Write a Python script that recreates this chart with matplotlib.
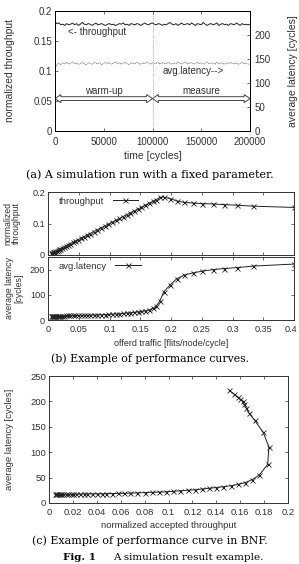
import numpy as np
import matplotlib.pyplot as plt
import matplotlib.patches as mpatches
from matplotlib.transforms import ScaledTranslation

# ---- data ----
# (a) simulation run, one sample every 2000 cycles
time_cycles = np.arange(0, 200001, 2000)
thr_run = [182, 179, 180, 177, 178, 176, 179, 177, 178, 180,
           177, 179, 176, 178, 181, 178, 177, 179, 178, 176,
           178, 180, 177, 178, 179, 177, 176, 178, 179, 177,
           178, 176, 177, 179, 178, 180, 177, 178, 176, 179,
           178, 177, 179, 178, 176, 178, 180, 178, 177, 179,
           180, 178, 177, 179, 178, 176, 178, 177, 179, 181,
           178, 177, 179, 176, 178, 180, 177, 178, 179, 177,
           180, 178, 176, 179, 178, 177, 181, 178, 176, 178,
           179, 177, 178, 180, 176, 178, 179, 177, 178, 176,
           179, 178, 177, 180, 178, 176, 179, 177, 178, 177, 178]
lat_run = [131, 139, 141, 138, 142, 140, 143, 139, 141, 144,
           140, 142, 139, 141, 143, 140, 138, 142, 141, 139,
           143, 141, 140, 142, 138, 141, 143, 140, 142, 139,
           141, 144, 140, 142, 139, 141, 143, 140, 138, 142,
           141, 140, 143, 141, 139, 142, 140, 144, 141, 139,
           142, 140, 141, 143, 139, 142, 141, 140, 143, 141,
           139, 142, 140, 144, 141, 139, 142, 143, 140, 141,
           142, 139, 141, 143, 140, 142, 139, 141, 144, 140,
           142, 141, 139, 143, 140, 142, 141, 139, 142, 140,
           143, 141, 140, 142, 139, 141, 143, 140, 141, 139, 140]

# (b)/(c) performance curves
offered = [0.005, 0.006, 0.007, 0.008, 0.009, 0.010, 0.012, 0.014, 0.016, 0.018,
           0.020, 0.023, 0.026, 0.029, 0.032, 0.036, 0.040, 0.044, 0.048, 0.053,
           0.058, 0.063, 0.068, 0.074, 0.080, 0.086, 0.092, 0.098, 0.104, 0.110,
           0.116, 0.122, 0.128, 0.134, 0.140, 0.146, 0.152, 0.158, 0.164, 0.170,
           0.176, 0.182, 0.188, 0.199, 0.209, 0.221, 0.236, 0.251, 0.268, 0.286,
           0.308, 0.334, 0.400]
accepted = [0.005, 0.006, 0.007, 0.008, 0.009, 0.010, 0.012, 0.014, 0.016, 0.018,
            0.020, 0.023, 0.026, 0.029, 0.032, 0.036, 0.040, 0.044, 0.048, 0.053,
            0.058, 0.063, 0.068, 0.074, 0.080, 0.086, 0.092, 0.098, 0.104, 0.110,
            0.116, 0.122, 0.128, 0.134, 0.140, 0.146, 0.152, 0.158, 0.164, 0.170,
            0.176, 0.183, 0.184, 0.179, 0.172, 0.167, 0.165, 0.163, 0.162, 0.160,
            0.158, 0.155, 0.151]
latency = [17, 17, 17, 17, 17, 17, 17, 17, 17, 17.5,
           17.5, 17.5, 17.5, 18, 18, 18, 18, 18, 18.5, 18.5,
           19, 19, 19.5, 20, 20.5, 21, 21.5, 22, 23, 24,
           25, 26, 27.5, 29, 30.5, 32, 34, 36.5, 40, 46,
           55, 76, 111, 140, 163, 178, 187, 194, 200, 204,
           208, 214, 222]

W, H = 299, 564
plt.rcParams['font.family'] = ['Liberation Sans', 'DejaVu Sans']
plt.rcParams['xtick.direction'] = 'in'
plt.rcParams['ytick.direction'] = 'in'
plt.rcParams['axes.linewidth'] = 0.7
tick_col = '#333333'

fig = plt.figure(figsize=(W / 100, H / 100), dpi=100)


def box(l, t, r, b):
    return [l / W, 1 - b / H, (r - l) / W, (b - t) / H]


def style(ax, fs, right=True):
    ax.tick_params(labelsize=fs, colors=tick_col, length=2.5, width=0.5,
                   pad=2, top=True, right=right)
    ax.tick_params(axis='x', pad=3.5)
    for s in ax.spines.values():
        s.set_color('#333333')


def darrow(ax, x0, x1, y, hl, hw, sw):
    pts = [(x0, y), (x0 + hl, y + hw), (x0 + hl, y + sw), (x1 - hl, y + sw),
           (x1 - hl, y + hw), (x1, y), (x1 - hl, y - hw), (x1 - hl, y - sw),
           (x0 + hl, y - sw), (x0 + hl, y - hw)]
    ax.add_patch(mpatches.Polygon(pts, closed=True, fc='white', ec='#444444', lw=0.7))


cap = dict(family='DejaVu Serif', ha='center', va='center')

# ---- (a) ----
ax = fig.add_axes(box(55, 11, 250, 131))
ax2 = ax.twinx()
ax.plot(time_cycles, np.array(thr_run) / 1000, color='#222222', lw=0.7)
ax2.plot(time_cycles, lat_run, color='#777777', lw=0.6, ls=(0, (1.5, 0.8)))
ax.axvline(100000, color='#888888', lw=0.6, ls=':')
ax.set_xlim(0, 200000)
ax.set_ylim(0, 0.2)
ax2.set_ylim(0, 250)
ax.set_xticks([0, 50000, 100000, 150000, 200000])
ax.set_yticks([0, 0.05, 0.1, 0.15, 0.2])
ax.set_yticklabels(['0', '0.05', '0.1', '0.15', '0.2'])
ax2.set_yticks([0, 50, 100, 150, 200])
style(ax, 7, right=False)
ax.tick_params(axis='x', pad=4.5)
ax2.tick_params(labelsize=7, colors=tick_col, length=2.5, width=0.5, pad=3)
ax.set_xlabel('time [cycles]', fontsize=7.5, color=tick_col, labelpad=3)
ax.set_ylabel('normalized throughput', fontsize=7.5, color=tick_col, labelpad=13)
ax2.set_ylabel('average latency [cycles]', fontsize=7.5, color=tick_col, labelpad=13)
ax.text(13000, 0.165, '<- throughput', fontsize=7, color=tick_col, va='center')
ax.text(110000, 0.1, 'avg.latency-->', fontsize=7, color=tick_col, va='center')
ax.text(50000, 0.067, 'warm-up', fontsize=7, color=tick_col, ha='center', va='center')
ax.text(150000, 0.067, 'measure', fontsize=7, color=tick_col, ha='center', va='center')
darrow(ax, 0, 100000, 0.054, 6000, 0.0068, 0.0032)
darrow(ax, 100000, 200000, 0.054, 6000, 0.0068, 0.0032)
fig.text(150 / W, 1 - 175 / H, '(a) A simulation run with a fixed parameter.',
         fontsize=8, **cap)

# ---- (b) ----
mk = dict(color='#222222', lw=0.7, marker='x', ms=3.6, mew=0.6)
leg = dict(loc='upper left', frameon=False, markerfirst=False, fontsize=6.8,
           handlelength=2.7, handletextpad=0.9, borderaxespad=0.1,
           bbox_to_anchor=(0.025, 1.0), labelcolor=tick_col)
bt = fig.add_axes(box(48, 192, 294, 255))
bt.plot(offered, accepted, label='throughput', **mk)
bt.set_xlim(0, 0.4)
bt.set_ylim(0, 0.2)
bt.set_yticks([0, 0.1, 0.2])
bt.set_yticklabels(['0', '0.1', '0.2'])
bt.set_xticks(np.arange(0, 0.41, 0.05))
bt.set_xticklabels([])
style(bt, 6.6)
bt.set_ylabel('normalized\nthroughput', fontsize=6.3, color=tick_col, labelpad=8, linespacing=1.0)
bt.legend(**leg)

bb = fig.add_axes(box(48, 257, 294, 320))
bb.plot(offered, latency, label='avg.latency', **mk)
bb.set_xlim(0, 0.4)
bb.set_ylim(0, 250)
bb.set_yticks([0, 100, 200])
bb.set_xticks(np.arange(0, 0.41, 0.05))
bb.set_xticklabels(['0', '0.05', '0.1', '0.15', '0.2', '0.25', '0.3', '0.35', '0.4'])
style(bb, 6.6)
last = bb.get_xticklabels()[-1]
last.set_transform(last.get_transform() + ScaledTranslation(-2.5 / 72, 0, fig.dpi_scale_trans))
bb.set_ylabel('average latency\n[cycles]', fontsize=6.3, color=tick_col, labelpad=5, linespacing=1.0)
bb.set_xlabel('offerd traffic [flits/node/cycle]', fontsize=6.5, color=tick_col, labelpad=4)
bb.legend(**leg)
fig.text(150 / W, 1 - 359 / H, '(b) Example of performance curves.', fontsize=7.8, **cap)

# ---- (c) ----
cx = fig.add_axes(box(49, 376, 288, 503))
cx.plot(accepted, latency, **mk)
cx.set_xlim(0, 0.2)
cx.set_ylim(0, 250)
cx.set_xticks(np.arange(0, 0.201, 0.02))
cx.set_xticklabels(['0', '0.02', '0.04', '0.06', '0.08', '0.1', '0.12',
                    '0.14', '0.16', '0.18', '0.2'])
cx.set_yticks([0, 50, 100, 150, 200, 250])
style(cx, 6.8)
cx.set_xlabel('normalized accepted throughput', fontsize=6.8, color=tick_col, labelpad=3)
cx.set_ylabel('average latency [cycles]', fontsize=6.8, color=tick_col, labelpad=12)
fig.text(150 / W, 1 - 541 / H, '(c) Example of performance curve in BNF.', fontsize=7.9, **cap)
fig.text(63 / W, 1 - 557 / H, 'Fig. 1', family='DejaVu Serif', fontsize=7.5,
         fontweight='bold', va='center')
fig.text(113 / W, 1 - 557 / H, 'A simulation result example.', family='DejaVu Serif',
         fontsize=7.5, va='center')

fig.savefig('out.png', dpi=100)
